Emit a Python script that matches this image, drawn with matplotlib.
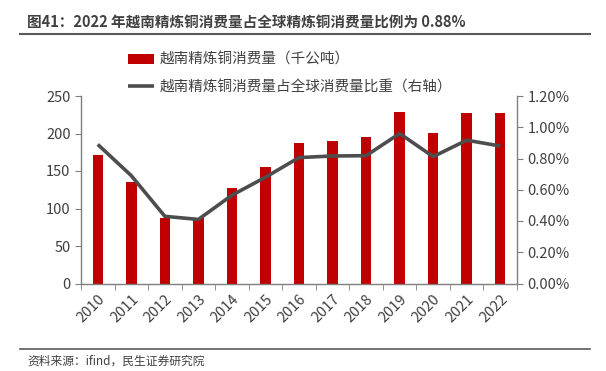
import numpy as np
import matplotlib.pyplot as plt
from matplotlib.ticker import FuncFormatter, FixedLocator

plt.rcParams['font.family'] = ['Noto Sans CJK SC', 'DejaVu Sans']

years = ["2010", "2011", "2012", "2013", "2014", "2015", "2016",
         "2017", "2018", "2019", "2020", "2021", "2022"]
consumption = [172, 135, 88, 87, 127, 156, 187, 190, 195, 229, 201, 228, 228]
share_pct = [0.89, 0.69, 0.43, 0.41, 0.565, 0.68, 0.806, 0.816, 0.818,
             0.96, 0.812, 0.917, 0.88]

bar_color = "#C00000"
line_color = "#4D4D4D"
axis_color = "#7F7F7F"
text_color = "#404040"

fig = plt.figure(figsize=(6.06, 3.71), dpi=100)
ax = fig.add_axes([81 / 606, 1 - 283.5 / 371, (517 - 81) / 606, (283.5 - 96) / 371])
ax2 = ax.twinx()

x = np.arange(len(years))
bars = ax.bar(x, consumption, width=0.31, color=bar_color, zorder=2,
              label="越南精炼铜消费量（千公吨）")
line, = ax2.plot(x, share_pct, color=line_color, linewidth=2.6,
                 solid_capstyle="butt", zorder=3,
                 label="越南精炼铜消费量占全球消费量比重（右轴）")

ax.set_xlim(-0.5, len(years) - 0.5)
ax.set_ylim(0, 250)
ax.set_yticks(range(0, 251, 50))
ax2.set_ylim(0, 1.2)
ax2.set_yticks(np.arange(0, 1.21, 0.2))
ax2.yaxis.set_major_formatter(FuncFormatter(lambda v, p: f"{v:.2f}%"))

ax.set_xticks(x)
ax.set_xticklabels(years, rotation=45, ha="right", rotation_mode="anchor")
ax.xaxis.set_minor_locator(FixedLocator(np.arange(-0.5, len(years), 1)))
ax.tick_params(axis="x", which="major", length=0, pad=6)
ax.tick_params(axis="x", which="minor", length=4, color=axis_color, direction="out")

for a in (ax, ax2):
    a.spines["top"].set_visible(False)
    for s in ("left", "right", "bottom"):
        a.spines[s].set_color(axis_color)
        a.spines[s].set_linewidth(1.0)
ax.spines["right"].set_visible(False)
ax2.spines["left"].set_visible(False)
ax2.spines["bottom"].set_visible(False)

ax.tick_params(axis="y", length=4, color=axis_color, labelsize=10.5,
               labelcolor=text_color)
ax2.tick_params(axis="y", length=4, color=axis_color, labelsize=10.5,
                labelcolor=text_color)
ax.tick_params(axis="x", labelsize=10.5, labelcolor=text_color)

fig.legend(handles=[bars, line], loc="upper left",
           bbox_to_anchor=(128 / 606, 1 - 53 / 371), frameon=False,
           fontsize=10.5, labelcolor=text_color, handlelength=1.8,
           handleheight=0.7, handletextpad=0.35, labelspacing=0.9,
           borderpad=0, borderaxespad=0)

fig.text(27 / 606, 1 - 22 / 371,
         "图41：2022 年越南精炼铜消费量占全球精炼铜消费量比例为 0.88%",
         fontsize=10.5, fontweight="bold", color=text_color, va="center")
fig.add_artist(plt.Line2D([20 / 606, 590 / 606], [1 - 34 / 371, 1 - 34 / 371],
                          color="#595959", linewidth=1.5))
fig.add_artist(plt.Line2D([20 / 606, 590 / 606], [1 - 349 / 371, 1 - 349 / 371],
                          color="#595959", linewidth=1.2))
fig.text(27 / 606, 1 - 361 / 371, "资料来源：ifind，民生证券研究院",
         fontsize=8.5, color=text_color, va="center")

fig.savefig("out.png", dpi=100)
